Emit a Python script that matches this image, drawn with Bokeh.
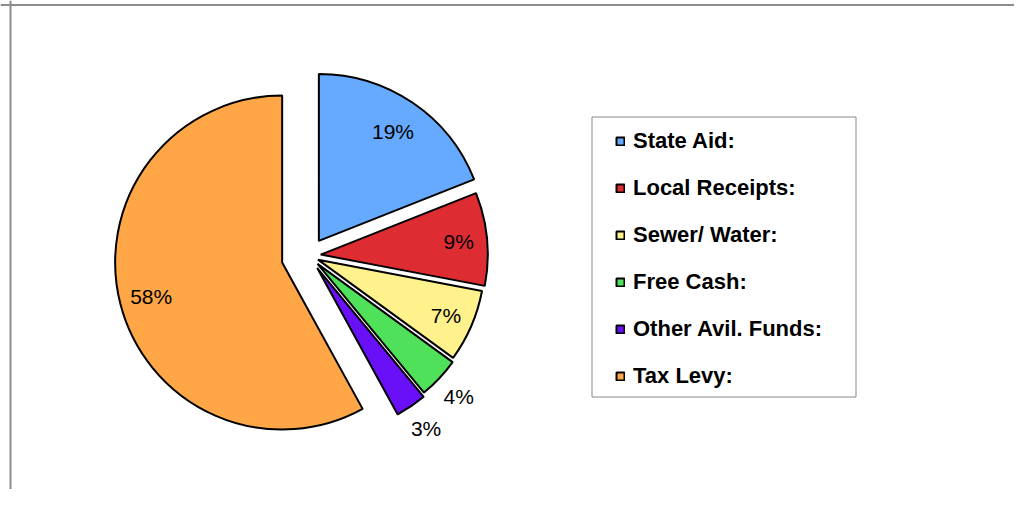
import numpy as np
from bokeh.plotting import figure
from bokeh.models import ColumnDataSource, Legend, LegendItem, Span, BoxAnnotation, Range1d
from bokeh.core.properties import value
from bokeh.embed import file_html
from bokeh.resources import INLINE

# ---- data ----
categories = ["State Aid:", "Local Receipts:", "Sewer/ Water:", "Free Cash:",
              "Other Avil. Funds:", "Tax Levy:"]
shares = [19, 9, 7, 4, 3, 58]
pct_labels = ["19%", "9%", "7%", "4%", "3%", "58%"]
colors = ["#66AAFF", "#DD2D33", "#FFF28C", "#50E15A", "#6A10F8", "#FFA647"]

# ---- layout (data units = image pixels, y negated) ----
FIG_W, FIG_H = 1014, 489
ORG_X, ORG_Y = 0, 0
CX, CY = 308.3, -255.2          # pie centre
R = 167                         # pie radius
explode = [17.9, 12, 10, 12, 15, 27.5]
label_r = [0.79, 0.83, 0.835, 1.16, 1.16, 0.81]

frac = np.array(shares, dtype=float) / sum(shares)
cum_end = np.cumsum(frac)
cum_start = cum_end - frac
a_start = np.pi / 2 - 2 * np.pi * cum_start   # clockwise from 12 o'clock
a_end = np.pi / 2 - 2 * np.pi * cum_end
mid = (a_start + a_end) / 2
ex = CX + np.array(explode) * np.cos(mid)
ey = CY + np.array(explode) * np.sin(mid)
lx = ex + np.array(label_r) * R * np.cos(mid)
ly = ey + np.array(label_r) * R * np.sin(mid)

src = ColumnDataSource(dict(x=ex, y=ey, a0=a_end, a1=a_start, color=colors,
                            cat=categories, lx=lx, ly=ly, txt=pct_labels))

p = figure(width=FIG_W, height=FIG_H,
           x_range=Range1d(ORG_X, ORG_X + FIG_W),
           y_range=Range1d(-(ORG_Y + FIG_H), -ORG_Y),
           x_axis_type=None, y_axis_type=None,
           toolbar_location=None, output_backend="svg",
           min_border=0, min_border_left=0, min_border_right=0,
           min_border_top=0, min_border_bottom=0)
p.grid.visible = False
p.outline_line_color = None
p.background_fill_color = "white"

wr = p.wedge(x="x", y="y", radius=R, start_angle="a0", end_angle="a1",
             direction="anticlock", fill_color="color", line_color="black",
             line_width=2, source=src)

p.text(x="lx", y="ly", text="txt", source=src, text_align="center",
       text_baseline="middle", text_font=value("Liberation Sans"),
       text_font_size="21px", text_color="#000000")

# outer chart-area border (top and left visible)
p.add_layout(Span(location=-4.5, dimension="width", line_color="#8c8c8c", line_width=2))
p.add_layout(Span(location=10, dimension="height", line_color="#8c8c8c", line_width=2))

# legend box
p.add_layout(BoxAnnotation(left=591.5, right=855.5, top=-116.5, bottom=-396.5,
                           fill_alpha=0, line_color="#888888", line_alpha=1.0,
                           line_width=1))

items = [LegendItem(label=c, renderers=[wr], index=i) for i, c in enumerate(categories)]
leg_top = 125.8
leg_h = 6 * 30 + 5 * 17
legend = Legend(items=items,
                location=(615 - ORG_X, (ORG_Y + FIG_H) - (leg_top + leg_h)),
                padding=0, margin=0, spacing=17, label_height=30,
                glyph_width=10, glyph_height=10, label_standoff=8,
                label_text_font="Liberation Sans", label_text_font_style="bold",
                label_text_font_size="22px", label_text_color="#000000",
                border_line_alpha=0, background_fill_alpha=0)
p.add_layout(legend)

open("out.html", "w").write(file_html(p, INLINE))
